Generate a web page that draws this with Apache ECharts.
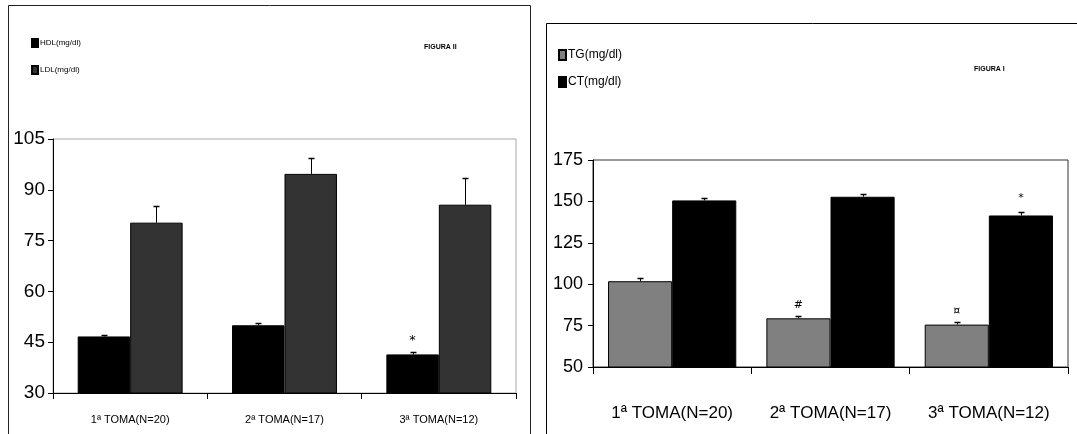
<!DOCTYPE html>
<html>
<head>
<meta charset="utf-8">
<script src="https://cdn.jsdelivr.net/npm/echarts@6/dist/echarts.min.js"></script>
<style>html,body{margin:0;padding:0;background:#fff;}#c{width:1077px;height:434px;}</style>
</head>
<body>
<div id="c"></div>
<script>
// ---- data ----
const categories = ['1ª TOMA(N=20)', '2ª TOMA(N=17)', '3ª TOMA(N=12)'];
// left panel (FIGURA II)
const hdl = [46.7, 50.0, 41.4];
const hdlErr = [0.3, 0.6, 0.8];
const hdlMarks = ['', '', '*'];
const ldl = [80.3, 94.7, 85.6];
const ldlErr = [4.9, 4.7, 7.9];
const leftTicks = [30, 105, 15]; // min, max, interval
// right panel (FIGURA I)
const tg = [101.8, 79.4, 75.6];
const tgErr = [2.2, 1.6, 1.8];
const tgMarks = ['', '#', '¤'];
const ct = [150.6, 152.8, 141.5];
const ctErr = [1.2, 1.4, 2.3];
const ctMarks = ['', '', '*'];
const rightTicks = [50, 175, 25];

const FONT = '"Liberation Sans", Arial, sans-serif';
const LEFT_GAP = 0.32, RIGHT_GAP = 0.19;

function errSeries(name, xi, vals, errs, side, gap, cap) {
  return {
    type: 'custom', name: name, xAxisIndex: xi, yAxisIndex: xi, z: 5, silent: true,
    data: vals.map((v, i) => [i, v, errs[i]]),
    encode: {x: 0, y: 1},
    renderItem: function (params, api) {
      const i = api.value(0), v = api.value(1), e = api.value(2);
      const band = api.size([1, 0])[0];
      const bw = band * (1 - gap) / 2;
      const b = api.coord([i, v]);
      const t = api.coord([i, v + e]);
      const x = Math.round(b[0] + side * bw / 2) + 0.5;
      const ty = Math.round(t[1]) + 0.5;
      return {type: 'group', children: [
        {type: 'line', shape: {x1: x, y1: b[1], x2: x, y2: ty}, style: {stroke: '#000', lineWidth: 1}},
        {type: 'line', shape: {x1: x - cap, y1: ty, x2: x + cap, y2: ty}, style: {stroke: '#000', lineWidth: 1.5}}
      ]};
    }
  };
}

function barSeries(name, xi, vals, color, marks, gap, markSize, markDist) {
  return {
    type: 'bar', name: name, xAxisIndex: xi, yAxisIndex: xi,
    barGap: '0%', barCategoryGap: (gap * 100) + '%',
    data: vals,
    itemStyle: {color: color, borderColor: '#000', borderWidth: 1},
    label: marks ? {
      show: true, position: 'top', distance: markDist,
      formatter: p => marks[p.dataIndex],
      fontSize: markSize, color: '#000', fontFamily: 'DejaVu Sans'
    } : {show: false}
  };
}

const chart = echarts.init(document.getElementById('c'), null, {renderer: 'canvas'});
chart.setOption({
  animation: false,
  backgroundColor: '#fff',
  graphic: [
    {type: 'rect', shape: {x: 8.5, y: 5.5, width: 522, height: 450}, style: {fill: 'none', stroke: '#222', lineWidth: 1}, z: 0},
    {type: 'rect', shape: {x: 546.5, y: 23.5, width: 560, height: 450}, style: {fill: 'none', stroke: '#000', lineWidth: 1}, z: 0}
  ],
  title: [
    {text: 'FIGURA II', left: 419, top: 39, textStyle: {fontSize: 7, fontWeight: 'bold', fontFamily: FONT, color: '#000'}},
    {text: 'FIGURA I', left: 969, top: 61, textStyle: {fontSize: 7, fontWeight: 'bold', fontFamily: FONT, color: '#000'}}
  ],
  legend: [
    {data: ['HDL(mg/dl)', 'LDL(mg/dl)'], orient: 'vertical', left: 26, top: 33, itemWidth: 6, itemHeight: 8, itemGap: 17,
     icon: 'rect', textStyle: {fontSize: 8, fontFamily: FONT, color: '#000', padding: [0, 0, 0, -3]}},
    {data: ['TG(mg/dl)', 'CT(mg/dl)'], orient: 'vertical', left: 553, top: 44, itemWidth: 7, itemHeight: 10, itemGap: 15,
     icon: 'rect', textStyle: {fontSize: 12, fontFamily: FONT, color: '#000', padding: [0, 0, 0, -3]}}
  ],
  grid: [
    {left: 53, top: 139, width: 463, height: 254, show: true, borderColor: '#a8a8a8', borderWidth: 1, backgroundColor: 'transparent'},
    {left: 593, top: 160, width: 475, height: 207, show: true, borderColor: '#333', borderWidth: 1, backgroundColor: 'transparent'}
  ],
  xAxis: [
    {type: 'category', gridIndex: 0, data: categories,
     axisLine: {lineStyle: {color: '#000', width: 1}},
     axisTick: {show: true, length: 6, lineStyle: {color: '#000'}},
     axisLabel: {interval: 0, hideOverlap: false, margin: 21, fontSize: 11, fontFamily: FONT, color: '#000'}},
    {type: 'category', gridIndex: 1, data: categories,
     axisLine: {lineStyle: {color: '#000', width: 1}},
     axisTick: {show: true, length: 7, lineStyle: {color: '#000'}},
     axisLabel: {interval: 0, hideOverlap: false, margin: 38, fontSize: 17, fontFamily: FONT, color: '#000'}}
  ],
  yAxis: [
    {type: 'value', gridIndex: 0, min: leftTicks[0], max: leftTicks[1], interval: leftTicks[2],
     splitLine: {show: false},
     axisLine: {show: true, lineStyle: {color: '#000', width: 1}},
     axisTick: {show: true, length: 5, lineStyle: {color: '#000'}},
     axisLabel: {margin: 8, fontSize: 19, fontFamily: FONT, color: '#000'}},
    {type: 'value', gridIndex: 1, min: rightTicks[0], max: rightTicks[1], interval: rightTicks[2],
     splitLine: {show: false},
     axisLine: {show: true, lineStyle: {color: '#000', width: 1}},
     axisTick: {show: true, length: 5, lineStyle: {color: '#000'}},
     axisLabel: {margin: 10, fontSize: 18, fontFamily: FONT, color: '#000'}}
  ],
  series: [
    barSeries('HDL(mg/dl)', 0, hdl, '#000000', hdlMarks, LEFT_GAP, 13, 7),
    barSeries('LDL(mg/dl)', 0, ldl, '#333333', null, LEFT_GAP),
    barSeries('TG(mg/dl)', 1, tg, '#808080', tgMarks, RIGHT_GAP, 11, 8),
    barSeries('CT(mg/dl)', 1, ct, '#000000', ctMarks, RIGHT_GAP, 11, 12),
    errSeries('hdlErr', 0, hdl, hdlErr, -1, LEFT_GAP, 3),
    errSeries('ldlErr', 0, ldl, ldlErr, 1, LEFT_GAP, 3),
    errSeries('tgErr', 1, tg, tgErr, -1, RIGHT_GAP, 3),
    errSeries('ctErr', 1, ct, ctErr, 1, RIGHT_GAP, 3)
  ]
});
</script>
</body>
</html>
